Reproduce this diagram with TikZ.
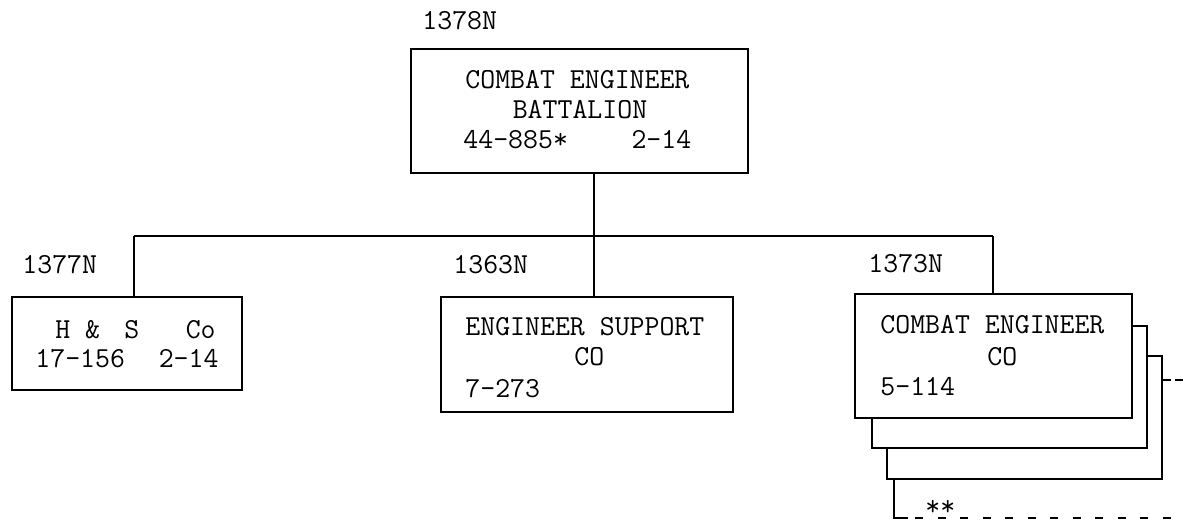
\documentclass[tikz,border=0pt]{standalone}
\usepackage{fontspec}
\begin{document}
\begin{tikzpicture}[x=0.5pt,y=-0.5pt,
  ln/.style={line width=1.1pt},
  box/.style={draw,ln,fill=white,rectangle,inner sep=0pt},
  txt/.style={inner sep=0pt,font=\ttfamily\fontsize{14.5pt}{17pt}\selectfont},
  dashline/.style={ln,dash pattern=on 4pt off 7.25pt}
]
\useasboundingbox (0,0) rectangle (1184,521);

% boxes
\node[box,minimum width=168.5pt,minimum height=62pt] (top) at (579.5,111) {};
\node[box,minimum width=115pt,minimum height=46.5pt] (hs) at (127,343.5) {};
\node[box,minimum width=146pt,minimum height=57.5pt] (mid) at (587,354.5) {};
\node[box,minimum width=137.5pt,minimum height=61.5pt] (ce3) at (1024.5,417.5) {};
\node[box,minimum width=137.5pt,minimum height=61pt] (ce2) at (1009.5,387) {};
\node[box,minimum width=138.5pt,minimum height=62pt] (ce1) at (993.5,356) {};

% texts
\node[txt,anchor=base west] (l1378) at (422,29) {1378N};
\node[txt,anchor=base west] (t1) at (465,88) {COMBAT ENGINEER};
\node[txt,anchor=base] (t2) at (580,118) {BATTALION};
\node[txt,anchor=base west] (t3) at (463,148) {44-885*\hspace{31.8pt}2-14};

\node[txt,anchor=base west] (l1377) at (22,273) {1377N};
\node[txt,anchor=base west] (h1) at (55,338) {H \& \hspace{4.6pt}S \hspace{15.8pt}Co};
\node[txt,anchor=base west] (h2) at (35,367) {17-156\hspace{16.9pt}2-14};

\node[txt,anchor=base west] (l1363) at (453,273) {1363N};
\node[txt,anchor=base west] (m1) at (465,335) {ENGINEER SUPPORT};
\node[txt,anchor=base west] (m2) at (574,365) {CO};
\node[txt,anchor=base west] (m3) at (465,397) {7-273};

\node[txt,anchor=base west] (l1373) at (868,272) {1373N};
\node[txt,anchor=base west] (r1) at (880,333) {COMBAT ENGINEER};
\node[txt,anchor=base west] (r2) at (987,365) {CO};
\node[txt,anchor=base west] (r3) at (880,395) {5-114};

\node[txt,anchor=base west] (stars) at (925,515) {**};

% connectors
\coordinate (busL) at (134,236);
\coordinate (busM) at (594,236);
\coordinate (busR) at (993,236);
\draw[ln] (top.south -| busM) -- (busM);
\draw[ln] (busL) -- (busR);
\draw[ln] (busL) -- (hs.north -| busL);
\draw[ln] (busM) -- (mid.north -| busM);
\draw[ln] (busR) -- (ce1.north -| busR);

\coordinate (d1) at (1184,380);
\draw[ln,dash pattern=on 4pt off 2pt] (d1 -| ce3.east) -- (d1);

\coordinate (Lc) at (894,518);
\coordinate (Lk) at (908,518);
\coordinate (Le) at (1184,518);
\draw[ln] (ce3.south -| Lc) -- (Lc) -- (Lk);
\draw[dashline,dash phase=7.75pt] (Lk) -- (Le);
\end{tikzpicture}
\end{document}
